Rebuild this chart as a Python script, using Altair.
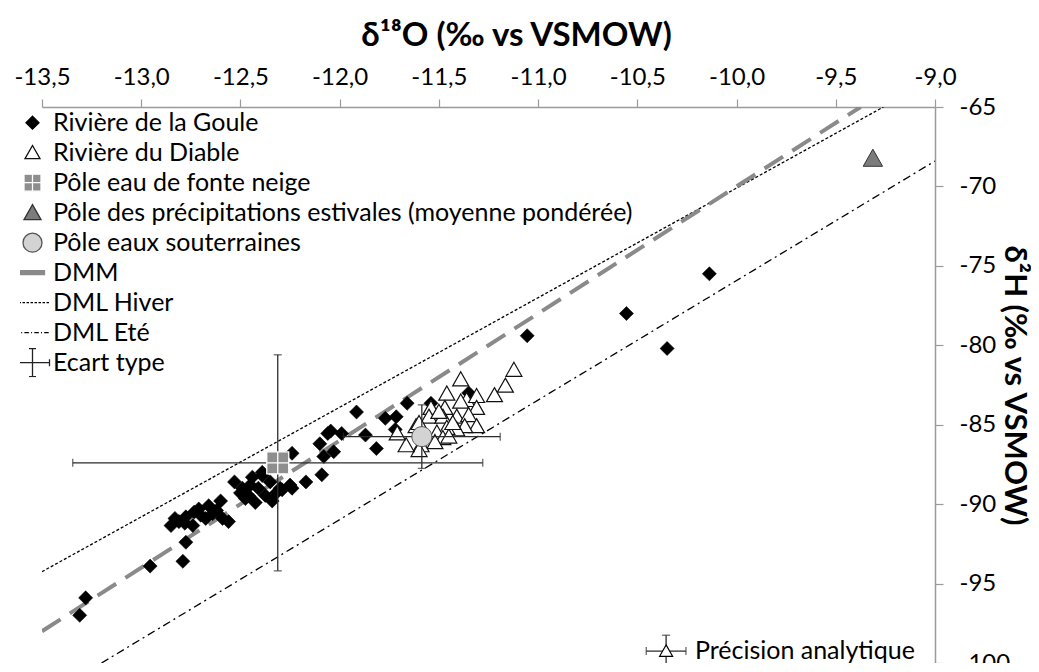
import altair as alt
import pandas as pd

# ---------------- data ----------------
goule_x = [-13.31, -13.28, -12.955, -12.79, -12.775,
           -12.85, -12.81, -12.775, -12.733, -12.71, -12.66, -12.64, -12.60, -12.59, -12.56,
           -12.675, -12.74, -12.70, -12.62, -12.78, -12.83,
           -12.53, -12.49, -12.46, -12.425, -12.39, -12.41, -12.375, -12.34, -12.475, -12.39,
           -12.29, -12.24, -12.24, -12.17, -12.09, -12.10, -12.08, -12.06, -12.03, -11.99,
           -11.915, -12.45, -12.50, -12.35, -12.32, -12.44, -12.30, -12.25, -12.045,
           -11.87, -11.815, -11.77, -11.715, -11.72, -11.66, -11.54, -11.35,
           -11.055, -10.555, -10.35, -10.137]
goule_y = [-97.0, -95.9, -93.9, -93.6, -92.4,
           -91.35, -91.1, -90.8, -90.5, -90.3, -90.1, -90.6, -89.8, -90.9, -91.1,
           -90.9, -91.35, -90.7, -90.4, -91.2, -90.9,
           -88.6, -89.0, -89.45, -89.9, -88.2, -89.0, -89.45, -89.8, -89.65, -88.0,
           -89.1, -89.0, -86.8, -88.6, -88.15, -86.2, -87.0, -85.55, -86.7, -85.55,
           -84.2, -88.8, -89.3, -88.6, -89.3, -88.3, -89.0, -88.8, -85.4,
           -85.65, -86.5, -84.6, -84.5, -85.3, -83.65, -83.65, -83.0,
           -79.4, -78.0, -80.2, -75.5]

diable_x = [-11.122, -11.165, -11.22, -11.39, -11.46, -11.36, -11.31, -11.31, -11.39, -11.47,
            -11.54, -11.55, -11.48, -11.41, -11.35, -11.31, -11.37, -11.41, -11.46, -11.51,
            -11.48, -11.45, -11.52, -11.59, -11.60, -11.665, -11.71, -11.615, -11.60, -11.43,
            -11.50]
diable_y = [-81.55, -82.55, -83.15, -82.15, -83.05, -83.45, -83.2, -83.95, -83.55, -83.95,
            -83.95, -84.5, -84.5, -84.5, -84.4, -85.1, -85.1, -85.3, -85.2, -85.5,
            -85.85, -85.75, -86.1, -86.3, -86.6, -86.3, -85.55, -85.1, -84.9, -84.9,
            -84.2]

# poles: centre and standard deviation
neige_x, neige_y, neige_sx, neige_sy = -12.312, -87.4, 1.033, 6.8
sout_x, sout_y, sout_sx, sout_sy = -11.586, -85.75, 0.395, 2.0
ete_x, ete_y = -9.313, -68.23

# analytical precision marker
prec_x, prec_y, prec_sx, prec_sy = -10.355, -99.25, 0.1, 1.0
prec_label = "Précision analytique"
prec_label_x = -10.21

# meteoric water lines (end points read on the chart)
dmm_x, dmm_y = [-13.5, -9.375], [-98.0, -65.0]
hiver_x, hiver_y = [-13.5, -9.26], [-94.25, -65.0]
ete_line_x, ete_line_y = [-13.2, -9.0], [-100.0, -68.4]

x_ticks = [-13.5, -13.0, -12.5, -12.0, -11.5, -11.0, -10.5, -10.0, -9.5, -9.0]
y_ticks = [-100, -95, -90, -85, -80, -75, -70, -65]

S_GOULE = "Rivière de la Goule"
S_DIABLE = "Rivière du Diable"
S_NEIGE = "Pôle eau de fonte neige"
S_ETE = "Pôle des précipitations estivales (moyenne pondérée)"
S_SOUT = "Pôle eaux souterraines"
S_DMM = "DMM"
S_HIV = "DML Hiver"
S_DMLE = "DML Eté"
S_ECART = "Ecart type"
series = [S_GOULE, S_DIABLE, S_NEIGE, S_ETE, S_SOUT, S_DMM, S_HIV, S_DMLE, S_ECART]

# ---------------- symbol shapes ----------------
def segs(pattern, x0=-1.8, x1=1.7):
    out, x, i = [], x0, 0
    while x < x1:
        length, gap = pattern[i % len(pattern)]
        e = min(x + length, x1)
        out.append("M%.3f,0H%.3f" % (x, e))
        x = e + gap
        i += 1
    return "".join(out)

P_DIAMOND = "M0,-0.65L0.65,0L0,0.65L-0.65,0Z"
P_TRI = "M0,-0.72L0.75,0.6L-0.75,0.6Z"
P_SQUARE = "M-0.85,-0.85H0.85V0.85H-0.85ZM-0.85,0H0.85M0,-0.85V0.85"
P_TRI2 = "M0,-0.8L0.85,0.7L-0.85,0.7Z"
P_CIRCLE = "M-0.95,0A0.95,0.95,0,1,0,0.95,0A0.95,0.95,0,1,0,-0.95,0Z"
P_DMM = "M-1.8,-0.2H1.2V0.2H-1.8Z"
P_HIV = segs([(0.25, 0.15)])
P_DMLE = segs([(0.45, 0.22), (0.1, 0.22)])
P_ECART = ("M-1.8,0H1.7M0,-1.4V1.4M-1.8,-0.35V0.35M1.7,-0.35V0.35"
           "M-0.35,-1.4H0.35M-0.35,1.4H0.35")

shape_scale = alt.Scale(domain=series, range=[P_DIAMOND, P_TRI, P_SQUARE, P_TRI2, P_CIRCLE,
                                              P_DMM, P_HIV, P_DMLE, P_ECART])
fill_scale = alt.Scale(domain=series, range=["#000000", "#ffffff", "#8e8e8e", "#7c7c7c", "#d3d3d3",
                                             "#8a8a8a", "transparent", "transparent", "transparent"])
stroke_scale = alt.Scale(domain=series, range=["#000000", "#111111", "#ffffff", "#333333", "#555555",
                                               "#8a8a8a", "#000000", "#000000", "#222222"])

FONT = "Lato"
legend = alt.Legend(title=None, orient="none", legendX=-22, legendY=1, symbolSize=400,
                    symbolStrokeWidth=1.3, symbolOpacity=1, labelFont=FONT, labelFontSize=25,
                    labelColor="black", labelOffset=8, rowPadding=0, clipHeight=29.3,
                    labelLimit=900, padding=0)

x_scale = alt.Scale(domain=[-13.5, -9.0], nice=False, zero=False)
y_scale = alt.Scale(domain=[-100, -65], nice=False, zero=False)

x_axis = alt.Axis(orient="top", title="δ¹⁸O (‰ vs VSMOW)", values=x_ticks,
                  labelExpr="replace(replace(format(datum.value, '.1f'), '.', ','), '\u2212', '-')",
                  labelFont=FONT, labelFontSize=24, labelColor="black", labelPadding=10,
                  labelFlush=False, labelOverlap=False,
                  titleFont=FONT, titleFontSize=33, titleFontWeight="bold", titleColor="black",
                  titleX=474, titleY=-72, titleBaseline="middle", titleAlign="center",
                  domainColor="#9a9a9a", domainWidth=1.5, tickColor="#9a9a9a", tickSize=8,
                  tickWidth=1.2, grid=False)
y_axis = alt.Axis(orient="right", title="δ²H (‰ vs VSMOW)", values=y_ticks,
                  labelExpr="'' + datum.value", labelFlush=False, labelOverlap=False,
                  labelFont=FONT, labelFontSize=24, labelColor="black", labelPadding=16,
                  titleFont=FONT, titleFontSize=31, titleFontWeight="bold", titleColor="black",
                  titleAngle=90, titleX=78, titleY=278, titleBaseline="middle", titleAlign="center",
                  domainColor="#9a9a9a", domainWidth=1.5, tickColor="#9a9a9a",
                  tickSize=8, tickWidth=1.2, grid=False)

X = alt.X("x:Q", scale=x_scale, axis=x_axis)
Y = alt.Y("y:Q", scale=y_scale, axis=y_axis)

def points(df, size, sw=1.2):
    return alt.Chart(df).mark_point(filled=True, size=size, opacity=1, strokeWidth=sw).encode(
        x=X, y=Y,
        shape=alt.Shape("series:N", scale=shape_scale, legend=legend),
        fill=alt.Fill("series:N", scale=fill_scale, legend=legend),
        stroke=alt.Stroke("series:N", scale=stroke_scale, legend=legend),
    )

goule_df = pd.DataFrame({"x": goule_x, "y": goule_y, "series": S_GOULE})
diable_df = pd.DataFrame({"x": diable_x, "y": diable_y, "series": S_DIABLE})
neige_df = pd.DataFrame({"x": [neige_x], "y": [neige_y], "series": [S_NEIGE]})
sout_df = pd.DataFrame({"x": [sout_x], "y": [sout_y], "series": [S_SOUT]})
ete_df = pd.DataFrame({"x": [ete_x], "y": [ete_y], "series": [S_ETE]})

def line(xs, ys, color, width, dash):
    df = pd.DataFrame({"x": xs, "y": ys})
    return alt.Chart(df).mark_line(color=color, strokeWidth=width, strokeDash=dash, clip=True).encode(
        x=X, y=Y)

lines = [
    line(hiver_x, hiver_y, "#000000", 1.3, [3, 2]),
    line(ete_line_x, ete_line_y, "#000000", 1.3, [8, 4, 2, 4]),
    line(dmm_x, dmm_y, "#8a8a8a", 4, [22, 11]),
]

# error bars
eb = pd.DataFrame({
    "x": [neige_x, sout_x, prec_x],
    "y": [neige_y, sout_y, prec_y],
    "xlo": [neige_x - neige_sx, sout_x - sout_sx, prec_x - prec_sx],
    "xhi": [neige_x + neige_sx, sout_x + sout_sx, prec_x + prec_sx],
    "ylo": [neige_y - neige_sy, sout_y - sout_sy, prec_y - prec_sy],
    "yhi": [neige_y + neige_sy, sout_y + sout_sy, prec_y + prec_sy],
})
EBC = "#2b2b2b"
h_rule = alt.Chart(eb).mark_rule(color=EBC, strokeWidth=1.3).encode(
    x=alt.X("xlo:Q", scale=x_scale, axis=x_axis), x2="xhi:Q", y=Y)
v_rule = alt.Chart(eb).mark_rule(color=EBC, strokeWidth=1.3).encode(
    x=X, y=alt.Y("ylo:Q", scale=y_scale, axis=y_axis), y2="yhi:Q")
cap_lo = alt.Chart(eb).mark_tick(orient="vertical", size=8, thickness=1.3, color=EBC).encode(
    x=alt.X("xlo:Q", scale=x_scale, axis=x_axis), y=Y)
cap_hi = alt.Chart(eb).mark_tick(orient="vertical", size=8, thickness=1.3, color=EBC).encode(
    x=alt.X("xhi:Q", scale=x_scale, axis=x_axis), y=Y)
cap_bot = alt.Chart(eb).mark_tick(orient="horizontal", size=8, thickness=1.3, color=EBC).encode(
    x=X, y=alt.Y("ylo:Q", scale=y_scale, axis=y_axis))
cap_top = alt.Chart(eb).mark_tick(orient="horizontal", size=8, thickness=1.3, color=EBC).encode(
    x=X, y=alt.Y("yhi:Q", scale=y_scale, axis=y_axis))

prec_df = pd.DataFrame({"x": [prec_x], "y": [prec_y]})
prec_pt = alt.Chart(prec_df).mark_point(shape=P_TRI, filled=True, fill="white", stroke="black",
                                        strokeWidth=1.2, size=300, opacity=1).encode(x=X, y=Y)
prec_txt_df = pd.DataFrame({"x": [prec_label_x], "y": [prec_y], "t": [prec_label]})
prec_txt = alt.Chart(prec_txt_df).mark_text(align="left", baseline="middle", font=FONT,
                                            fontSize=25, color="black").encode(
    x=X, y=Y, text="t:N")

chart = alt.layer(
    *lines,
    points(goule_df, 465, 0.6),
    points(diable_df, 455, 1.2),
    h_rule, v_rule, cap_lo, cap_hi, cap_bot, cap_top,
    points(neige_df, 670, 1.3),
    points(sout_df, 441, 1.0),
    points(ete_df, 520, 1.0),
    prec_pt, prec_txt,
).properties(
    width=893, height=556,
    autosize=alt.AutoSizeParams(type="none"),
    padding={"left": 34, "top": 99, "right": 96, "bottom": 0},
).configure_view(strokeWidth=0)

chart.save("out.html", embed_options={"renderer": "svg", "actions": False})
